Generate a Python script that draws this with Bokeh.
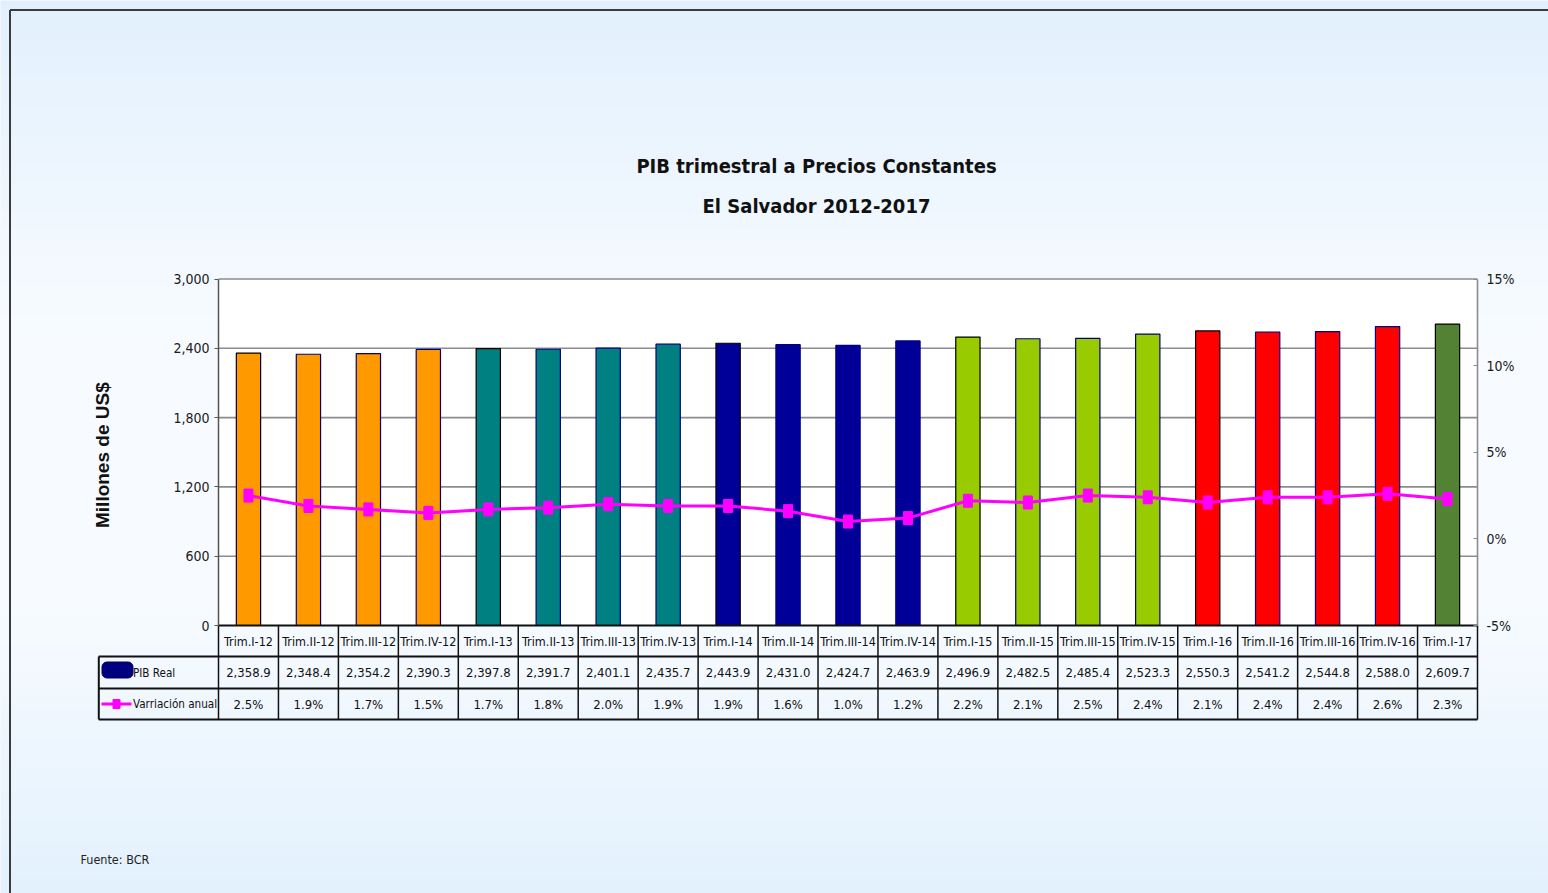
import numpy as np
from bokeh.plotting import figure
from bokeh.models import Range1d, LinearAxis, FixedTicker, NumeralTickFormatter, PrintfTickFormatter
from bokeh.core.properties import value
from bokeh.embed import file_html
from bokeh.resources import INLINE

# ---------------- data ----------------
categories = ["Trim.I-12", "Trim.II-12", "Trim.III-12", "Trim.IV-12",
              "Trim.I-13", "Trim.II-13", "Trim.III-13", "Trim.IV-13",
              "Trim.I-14", "Trim.II-14", "Trim.III-14", "Trim.IV-14",
              "Trim.I-15", "Trim.II-15", "Trim.III-15", "Trim.IV-15",
              "Trim.I-16", "Trim.II-16", "Trim.III-16", "Trim.IV-16",
              "Trim.I-17"]
pib_real = [2358.9, 2348.4, 2354.2, 2390.3, 2397.8, 2391.7, 2401.1, 2435.7,
            2443.9, 2431.0, 2424.7, 2463.9, 2496.9, 2482.5, 2485.4, 2523.3,
            2550.3, 2541.2, 2544.8, 2588.0, 2609.7]
variacion = [2.5, 1.9, 1.7, 1.5, 1.7, 1.8, 2.0, 1.9, 1.9, 1.6, 1.0, 1.2,
             2.2, 2.1, 2.5, 2.4, 2.1, 2.4, 2.4, 2.6, 2.3]
left_ticks = [0, 600, 1200, 1800, 2400, 3000]
right_ticks = [-5, 0, 5, 10, 15]
series_names = ["PIB Real", "Varriación anual"]
title_lines = ["PIB trimestral a Precios Constantes", "El Salvador 2012-2017"]
axis_title = "Millones  de US$"
source_note = "Fuente: BCR"

# ---------------- styles ----------------
year_colors = {"12": "#FF9900", "13": "#008080", "14": "#000099",
               "15": "#99CC00", "16": "#FF0000", "17": "#548235"}
NARROW_NAME = "DejaVu Sans Condensed"
NARROW = value(NARROW_NAME)

# ---------------- geometry helpers (page pixels -> data) ----------------
W, H = 1548, 893
PL, PR, PT, PB = 218.0, 1477.0, 278.5, 625.0   # plot area in page px
n = len(categories)
slot = (PR - PL) / n
ymax, ymin = left_ticks[-1], left_ticks[0]
pmax, pmin = right_ticks[-1], right_ticks[0]

def px2x(xs):
    return (xs - PL) / slot - 0.5

def px2y(ys):
    return ymin + (PB - ys) * (ymax - ymin) / (PB - PT)

def px2p(ys):
    return pmin + (PB - ys) * (pmax - pmin) / (PB - PT)

p = figure(width=W, height=H, output_backend="svg", toolbar_location=None,
           x_range=Range1d(px2x(0), px2x(W)),
           y_range=Range1d(px2y(H), px2y(0)),
           x_axis_type=None, y_axis_type=None, min_border=0)
p.extra_y_ranges = {"pct": Range1d(px2p(H), px2p(0))}
p.title.visible = False
p.outline_line_color = None
p.background_fill_color = "#EEF6FE"
p.border_fill_color = "#EEF6FE"

# ---------------- background gradient ----------------
stops_y = [0, 330, 600, 893]
stops_c = [(226, 240, 253), (247, 251, 255), (247, 251, 255), (227, 241, 253)]
rows = np.arange(H)
ys_rows = H - 0.5 - rows  # row 0 at bottom
img = np.zeros((H, 1, 4), dtype=np.uint8)
for ch in range(3):
    img[:, 0, ch] = np.interp(ys_rows, stops_y, [c[ch] for c in stops_c]).round()
img[:, 0, 3] = 255
img32 = img.view(np.uint32).reshape(H, 1)
x0, x1 = p.x_range.start, p.x_range.end
y0, y1 = p.y_range.start, p.y_range.end
p.image_rgba(image=[img32], x=x0, y=y0, dw=x1 - x0, dh=y1 - y0)

# outer border (top and left visible)
p.segment(x0=[px2x(9.5)], x1=[px2x(9.5)], y0=[y0], y1=[px2y(9.5)], line_color="#3C3C3C", line_width=2)
p.segment(x0=[px2x(9.5)], x1=[x1], y0=[px2y(9.5)], y1=[px2y(9.5)], line_color="#3C3C3C", line_width=2)

# ---------------- plot area ----------------
xs = list(range(n))
p.quad(left=[-0.5], right=[n - 0.5], bottom=[ymin], top=[ymax], fill_color="white", line_color=None)
p.segment(x0=[-0.5] * (len(left_ticks) - 1), x1=[n - 0.5] * (len(left_ticks) - 1),
          y0=left_ticks[1:], y1=left_ticks[1:], line_color="#8C8C8C", line_width=1.6)

years = [c.split("-")[1] for c in categories]
bar_colors = [year_colors[y] for y in years]
bar_lines = ["#000000" if c.startswith("Trim.I-") else "#000080" for c in categories]
p.vbar(x=xs, top=pib_real, width=0.405, bottom=0, fill_color=bar_colors,
       line_color=bar_lines, line_width=1.2)

p.line(xs, variacion, y_range_name="pct", line_color="#FF00FF", line_width=3)
p.rect(xs, variacion, width=9, height=13, width_units="screen", height_units="screen",
       y_range_name="pct", fill_color="#FF00FF", line_color="#FF00FF")

# ---------------- axes ----------------
yl = LinearAxis(fixed_location=-0.5, ticker=FixedTicker(ticks=left_ticks),
                formatter=NumeralTickFormatter(format="0,0"), bounds=(ymin, ymax),
                axis_line_color="#555555", axis_line_width=1.5,
                major_tick_line_color="#555555", major_tick_out=4, major_tick_in=0,
                minor_tick_line_color=None,
                major_label_text_font=NARROW_NAME, major_label_text_font_size="14px",
                major_label_text_color="#1A1A1A", major_label_standoff=5,
                axis_label=axis_title, axis_label_text_font="Liberation Sans",
                axis_label_text_font_style="bold", axis_label_text_font_size="19px",
                axis_label_text_color="#111111", axis_label_standoff=57)
p.add_layout(yl, "left")

yr = LinearAxis(y_range_name="pct", fixed_location=n - 0.5, ticker=FixedTicker(ticks=right_ticks),
                formatter=PrintfTickFormatter(format="%d%%"), bounds=(pmin, pmax),
                axis_line_color="#8C8C8C", axis_line_width=1.6,
                major_tick_line_color="#8C8C8C", major_tick_out=0, major_tick_in=4,
                minor_tick_line_color=None,
                major_label_text_font=NARROW_NAME, major_label_text_font_size="14px",
                major_label_text_color="#1A1A1A", major_label_standoff=9)
p.add_layout(yr, "right")

# ---------------- data table ----------------
row_edges = [PB, 656.0, 688.0, 719.0]
ry = [px2y(v) for v in row_edges]
table_left = px2x(98.3)
p.segment(x0=[k - 0.5 for k in range(n + 1)], x1=[k - 0.5 for k in range(n + 1)],
          y0=[ry[3]] * (n + 1), y1=[ry[0]] * (n + 1), line_color="#111111", line_width=1.5)
p.segment(x0=[table_left], x1=[table_left], y0=[ry[3]], y1=[ry[1]], line_color="#111111", line_width=2)
p.segment(x0=[-0.5], x1=[n - 0.5], y0=[ry[0]], y1=[ry[0]], line_color="#111111", line_width=2)
p.segment(x0=[table_left] * 3, x1=[n - 0.5] * 3, y0=ry[1:], y1=ry[1:], line_color="#111111", line_width=2)

cy = [(ry[i] + ry[i + 1]) / 2 for i in range(3)]
tkw = dict(text_font=NARROW, text_color="#111111", text_align="center", text_baseline="middle")
p.text(x=xs, y=[cy[0]] * n, text=categories, text_font_size="12.5px", **tkw)
p.text(x=xs, y=[cy[1]] * n, text=[f"{v:,.1f}" for v in pib_real], text_font_size="13px", **tkw)
p.text(x=xs, y=[cy[2]] * n, text=[f"{v:.1f}%" for v in variacion], text_font_size="13px", **tkw)

# legend keys in the table
p.quad(left=[px2x(101.5)], right=[px2x(132.5)], top=[px2y(661.5)], bottom=[px2y(677.5)],
       fill_color="#000080", line_color="#000060", border_radius=5)
p.segment(x0=[px2x(101)], x1=[px2x(131)], y0=[cy[2]], y1=[cy[2]], line_color="#FF00FF", line_width=3)
p.rect([px2x(116)], [cy[2]], width=7, height=9, width_units="screen", height_units="screen",
       fill_color="#FF00FF", line_color="#FF00FF")
p.text(x=[px2x(132.5)] * 2, y=cy[1:], text=series_names, text_font=NARROW, text_font_size="11.6px",
       text_color="#111111", text_align="left", text_baseline="middle")

# ---------------- titles ----------------
p.text(x=[px2x(816)] * 2, y=[px2y(165), px2y(205)], text=title_lines, text_font=NARROW,
       text_font_style="bold", text_font_size="20px", text_color="#111111",
       text_align="center", text_baseline="middle")
p.text(x=[px2x(80)], y=[px2y(859)], text=[source_note], text_font=NARROW, text_font_size="12.5px",
       text_color="#222222", text_align="left", text_baseline="middle")

open("out.html", "w").write(file_html(p, INLINE))
